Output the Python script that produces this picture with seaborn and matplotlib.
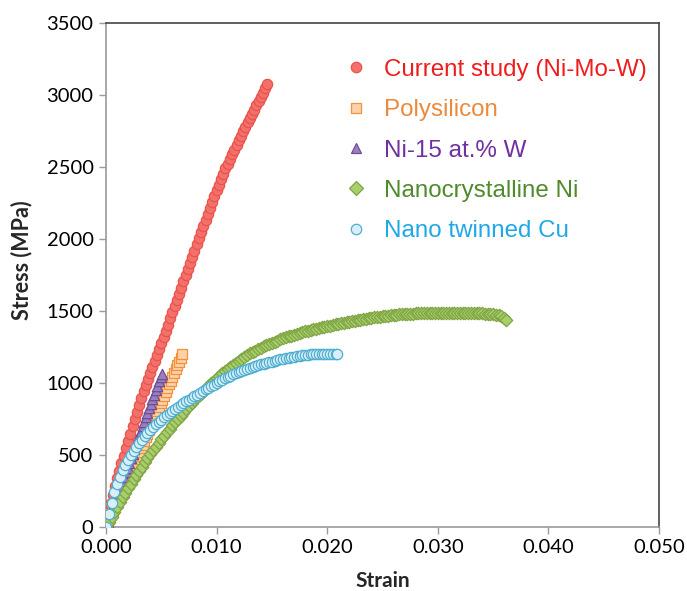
import numpy as np
import pandas as pd
import matplotlib
matplotlib.use("Agg")
import matplotlib.pyplot as plt
from matplotlib.lines import Line2D
from matplotlib.ticker import MultipleLocator, FormatStrFormatter
import seaborn as sns

# Current study (Ni-Mo-W)
nimow_strain = [0.0000, 0.0002, 0.0004, 0.0006, 0.0008, 0.0010, 0.0012, 0.0014, 0.0016, 0.0018,
                0.0020, 0.0022, 0.0024, 0.0026, 0.0028, 0.0030, 0.0032, 0.0034, 0.0036, 0.0038,
                0.0040, 0.0042, 0.0044, 0.0046, 0.0048, 0.0050, 0.0052, 0.0054, 0.0056, 0.0058,
                0.0060, 0.0062, 0.0064, 0.0066, 0.0068, 0.0070, 0.0072, 0.0074, 0.0076, 0.0078,
                0.0080, 0.0082, 0.0084, 0.0086, 0.0088, 0.0090, 0.0092, 0.0094, 0.0096, 0.0098,
                0.0100, 0.0102, 0.0104, 0.0106, 0.0108, 0.0110, 0.0112, 0.0114, 0.0116, 0.0118,
                0.0120, 0.0122, 0.0124, 0.0126, 0.0128, 0.0130, 0.0132, 0.0134, 0.0136, 0.0138,
                0.0140, 0.0142, 0.0144, 0.0146]
nimow_stress = [0, 85, 160, 225, 283, 337, 390, 444, 496, 547,
                598, 649, 700, 749, 798, 847, 896, 942, 983, 1026,
                1068, 1110, 1152, 1194, 1237, 1279, 1321, 1363, 1406, 1448,
                1490, 1533, 1577, 1620, 1663, 1707, 1750, 1793, 1835, 1877,
                1920, 1962, 2005, 2048, 2090, 2132, 2175, 2218, 2260, 2299,
                2337, 2375, 2414, 2452, 2490, 2523, 2555, 2588, 2620, 2653,
                2685, 2716, 2747, 2778, 2809, 2839, 2870, 2899, 2929, 2958,
                2988, 3017, 3046, 3076]

# Polysilicon
poly_strain = [0.00000, 0.00015, 0.00030, 0.00045, 0.00060, 0.00075, 0.00090, 0.00105, 0.00120, 0.00135,
               0.00150, 0.00165, 0.00180, 0.00195, 0.00210, 0.00225, 0.00240, 0.00255, 0.00270, 0.00285,
               0.00300, 0.00315, 0.00330, 0.00345, 0.00360, 0.00375, 0.00390, 0.00405, 0.00420, 0.00435,
               0.00450, 0.00465, 0.00480, 0.00495, 0.00510, 0.00525, 0.00540, 0.00555, 0.00570, 0.00585,
               0.00600, 0.00615, 0.00630, 0.00645, 0.00660, 0.00675, 0.00690]
poly_stress = [0, 27, 55, 81, 108, 134, 160, 186, 212, 238,
               264, 290, 315, 341, 367, 393, 418, 444, 470, 496,
               521, 547, 572, 598, 623, 649, 675, 701, 727, 754,
               780, 806, 833, 859, 885, 911, 937, 964, 990, 1016,
               1043, 1069, 1096, 1122, 1148, 1174, 1200]

# Ni-15 at.% W
niw_strain = [0.00000, 0.00015, 0.00030, 0.00045, 0.00060, 0.00075, 0.00090, 0.00105, 0.00120, 0.00135,
              0.00150, 0.00165, 0.00180, 0.00195, 0.00210, 0.00225, 0.00240, 0.00255, 0.00270, 0.00285,
              0.00300, 0.00315, 0.00330, 0.00345, 0.00360, 0.00375, 0.00390, 0.00405, 0.00420, 0.00435,
              0.00450, 0.00465, 0.00480, 0.00495, 0.00510]
niw_stress = [0, 32, 65, 96, 128, 160, 192, 223, 255, 287,
              318, 350, 382, 413, 445, 478, 510, 541, 573, 605,
              636, 668, 700, 731, 763, 794, 825, 857, 888, 919,
              950, 981, 1012, 1040, 1065]

# Nanocrystalline Ni
nc_strain = [0.00000, 0.00025, 0.00050, 0.00075, 0.00100, 0.00125, 0.00150, 0.00175, 0.00200, 0.00225,
             0.00250, 0.00275, 0.00300, 0.00325, 0.00350, 0.00375, 0.00400, 0.00425, 0.00450, 0.00475,
             0.00500, 0.00525, 0.00550, 0.00575, 0.00600, 0.00625, 0.00650, 0.00675, 0.00700, 0.00725,
             0.00750, 0.00775, 0.00800, 0.00825, 0.00850, 0.00875, 0.00900, 0.00925, 0.00950, 0.00975,
             0.01000, 0.01025, 0.01050, 0.01075, 0.01100, 0.01125, 0.01150, 0.01175, 0.01200, 0.01225,
             0.01250, 0.01275, 0.01300, 0.01325, 0.01350, 0.01375, 0.01400, 0.01425, 0.01450, 0.01475,
             0.01500, 0.01525, 0.01550, 0.01575, 0.01600, 0.01625, 0.01650, 0.01675, 0.01700, 0.01725,
             0.01750, 0.01775, 0.01800, 0.01825, 0.01850, 0.01875, 0.01900, 0.01925, 0.01950, 0.01975,
             0.02000, 0.02025, 0.02050, 0.02075, 0.02100, 0.02125, 0.02150, 0.02175, 0.02200, 0.02225,
             0.02250, 0.02275, 0.02300, 0.02325, 0.02350, 0.02375, 0.02400, 0.02425, 0.02450, 0.02475,
             0.02500, 0.02525, 0.02550, 0.02575, 0.02600, 0.02625, 0.02650, 0.02675, 0.02700, 0.02725,
             0.02750, 0.02775, 0.02800, 0.02825, 0.02850, 0.02875, 0.02900, 0.02925, 0.02950, 0.02975,
             0.03000, 0.03025, 0.03050, 0.03075, 0.03100, 0.03125, 0.03150, 0.03175, 0.03200, 0.03225,
             0.03250, 0.03275, 0.03300, 0.03325, 0.03350, 0.03375, 0.03400, 0.03425, 0.03450, 0.03475,
             0.03500, 0.03525, 0.03550, 0.03575, 0.03600, 0.03620]
nc_stress = [0, 37, 72, 106, 140, 173, 206, 238, 270, 301,
             331, 361, 390, 419, 448, 477, 505, 532, 558, 584,
             610, 634, 658, 682, 705, 728, 750, 773, 795, 817,
             838, 859, 880, 900, 920, 940, 960, 979, 998, 1017,
             1035, 1052, 1068, 1084, 1100, 1114, 1128, 1142, 1155, 1168,
             1180, 1193, 1205, 1215, 1225, 1235, 1245, 1254, 1263, 1272,
             1280, 1288, 1295, 1303, 1310, 1317, 1323, 1329, 1335, 1341,
             1347, 1353, 1358, 1363, 1368, 1373, 1378, 1383, 1387, 1391,
             1395, 1399, 1403, 1407, 1410, 1414, 1418, 1422, 1425, 1429,
             1433, 1437, 1440, 1443, 1446, 1449, 1452, 1455, 1457, 1460,
             1462, 1465, 1467, 1470, 1472, 1474, 1476, 1478, 1479, 1480,
             1481, 1482, 1483, 1484, 1485, 1486, 1486, 1487, 1487, 1487,
             1487, 1487, 1487, 1487, 1487, 1487, 1487, 1487, 1487, 1486,
             1486, 1486, 1486, 1485, 1485, 1484, 1483, 1482, 1481, 1480,
             1478, 1475, 1470, 1462, 1452, 1440]

# Nano twinned Cu
cu_strain = [0.00000, 0.00025, 0.00050, 0.00075, 0.00100, 0.00125, 0.00150, 0.00175, 0.00200, 0.00225,
             0.00250, 0.00275, 0.00300, 0.00325, 0.00350, 0.00375, 0.00400, 0.00425, 0.00450, 0.00475,
             0.00500, 0.00525, 0.00550, 0.00575, 0.00600, 0.00625, 0.00650, 0.00675, 0.00700, 0.00725,
             0.00750, 0.00775, 0.00800, 0.00825, 0.00850, 0.00875, 0.00900, 0.00925, 0.00950, 0.00975,
             0.01000, 0.01025, 0.01050, 0.01075, 0.01100, 0.01125, 0.01150, 0.01175, 0.01200, 0.01225,
             0.01250, 0.01275, 0.01300, 0.01325, 0.01350, 0.01375, 0.01400, 0.01425, 0.01450, 0.01475,
             0.01500, 0.01525, 0.01550, 0.01575, 0.01600, 0.01625, 0.01650, 0.01675, 0.01700, 0.01725,
             0.01750, 0.01775, 0.01800, 0.01825, 0.01850, 0.01875, 0.01900, 0.01925, 0.01950, 0.01975,
             0.02000, 0.02025, 0.02050, 0.02075, 0.02090]
cu_stress = [0, 90, 170, 240, 300, 350, 395, 432, 465, 497,
             528, 556, 583, 607, 630, 653, 675, 694, 712, 729,
             745, 761, 777, 792, 806, 820, 833, 847, 860, 872,
             884, 896, 908, 920, 932, 944, 955, 966, 977, 989,
             1000, 1011, 1021, 1032, 1042, 1052, 1062, 1070, 1078, 1086,
             1093, 1100, 1106, 1112, 1118, 1124, 1129, 1134, 1139, 1144,
             1149, 1154, 1159, 1164, 1168, 1172, 1176, 1180, 1183, 1186,
             1189, 1192, 1194, 1196, 1198, 1199, 1200, 1201, 1201, 1201,
             1201, 1201, 1201, 1200, 1200]

labels = ["Current study (Ni-Mo-W)", "Polysilicon", "Ni-15 at.% W",
          "Nanocrystalline Ni", "Nano twinned Cu"]

# (strain, stress, marker, fill, edge, text colour, size)
series = [
    (nimow_strain, nimow_stress, "o", "#f4716b", "#e8534c", "#f01c1c", 55),
    (poly_strain, poly_stress, "s", "#fcd3a8", "#f5913e", "#ec8a3c", 46),
    (niw_strain, niw_stress, "^", "#9a7fc0", "#6e4f96", "#7030a0", 55),
    (nc_strain, nc_stress, "D", "#a9cf6c", "#7fa545", "#4f8a2b", 40),
    (cu_strain, cu_stress, "o", "#d8eff8", "#4eaed0", "#1ea8e6", 55),
]

sns.set_style("white")
plt.rcParams["font.family"] = ["Lato", "DejaVu Sans"]

fig = plt.figure(figsize=(6.87, 5.91), dpi=100)
ax = fig.add_axes([0.1543, 0.1083, 0.8050, 0.8528])

handles = []
for (x, y, mk, fc, ec, tc, s), lab in zip(series, labels):
    df = pd.DataFrame({"Strain": x, "Stress": y})
    sns.scatterplot(data=df, x="Strain", y="Stress", marker=mk, s=s,
                    color=fc, edgecolor=ec, linewidth=0.9, ax=ax, legend=False, zorder=3)
    handles.append(Line2D([], [], linestyle="none", marker=mk, markersize=7.5,
                          markerfacecolor=fc, markeredgecolor=ec, markeredgewidth=0.9))

ax.set_xlim(0, 0.05)
ax.set_ylim(0, 3500)
ax.xaxis.set_major_locator(MultipleLocator(0.01))
ax.xaxis.set_major_formatter(FormatStrFormatter("%.3f"))
ax.yaxis.set_major_locator(MultipleLocator(500))

for side in ["left", "bottom"]:
    ax.spines[side].set_color("#9a9a9a")
    ax.spines[side].set_linewidth(1.2)
for side in ["top", "right"]:
    ax.spines[side].set_color("#444444")
    ax.spines[side].set_linewidth(1.2)

ax.tick_params(axis="both", which="major", direction="out", length=5, width=1,
               color="#9a9a9a", labelsize=14.5, labelcolor="black", pad=4,
               left=True, bottom=True)

ax.set_xlabel("Strain", fontsize=15, fontweight="bold")
ax.set_ylabel("Stress (MPa)", fontsize=15.5, fontweight="bold")
ax.xaxis.set_label_coords(0.5, -0.107)
ax.xaxis.label.set_verticalalignment("center")
ax.yaxis.set_label_coords(-0.152, 0.53)
ax.yaxis.label.set_verticalalignment("center")

leg = ax.legend(handles, labels, loc="upper left", bbox_to_anchor=(0.387, 0.972),
                frameon=False, handletextpad=0.55, labelspacing=0.76, handlelength=1.2,
                prop={"family": ["Liberation Sans", "DejaVu Sans"], "size": 17.4})
for txt, ser in zip(leg.get_texts(), series):
    txt.set_color(ser[5])

fig.savefig("out.png", dpi=100)
